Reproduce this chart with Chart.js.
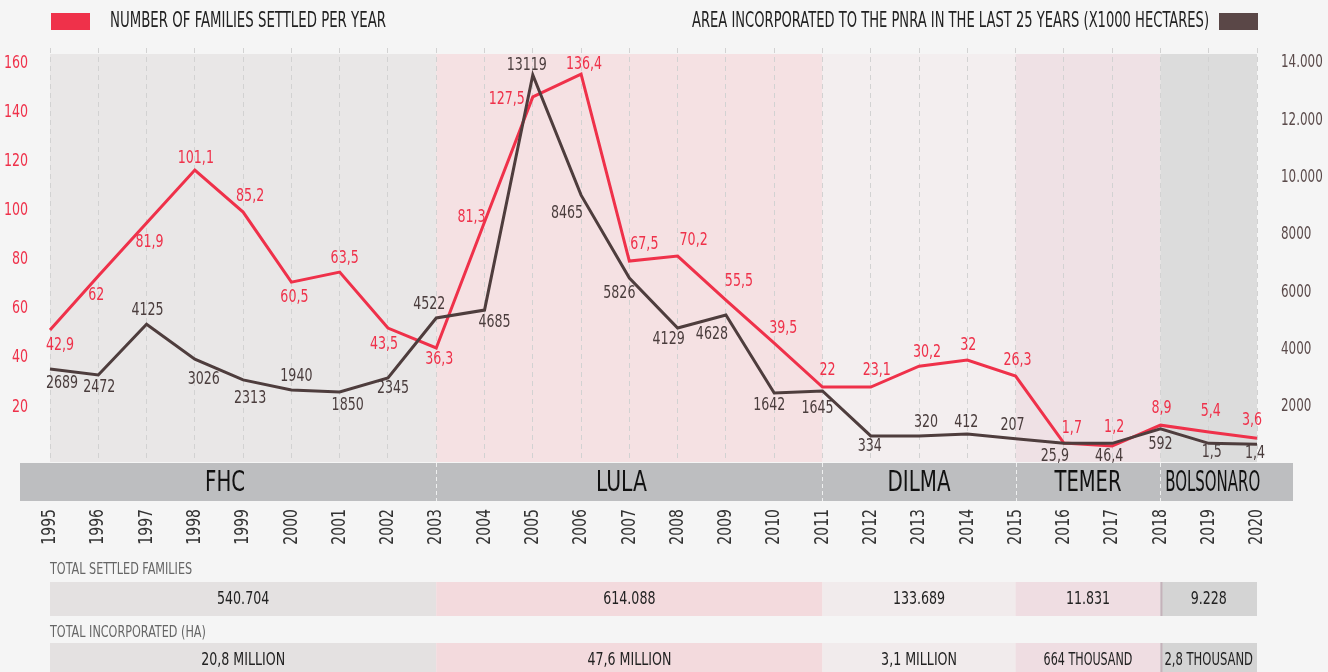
<!DOCTYPE html>
<html><head><meta charset="utf-8">
<script src="https://cdn.jsdelivr.net/npm/chart.js@4.4.1/dist/chart.umd.min.js"></script>
<style>html,body{margin:0;padding:0;background:#f5f5f5;overflow:hidden}#wrap{width:1328px;height:672px;position:relative}</style>
</head><body><div id="wrap"><canvas id="c" width="1328" height="672"></canvas></div>
<script>
// ---------- DATA ----------
const years = ["1995","1996","1997","1998","1999","2000","2001","2002","2003","2004","2005","2006","2007","2008","2009","2010","2011","2012","2013","2014","2015","2016","2017","2018","2019","2020"];
// families settled per year (x1000), as plotted
const families = [51.3,73.3,94.9,116.4,99.3,70.8,74.9,52.1,44.0,95.3,146.2,155.5,79.4,81.4,63.5,46.0,28.1,28.1,36.6,39.1,32.6,5.3,4.1,12.6,9.8,7.3];
// area incorporated (x1000 ha), as plotted
const area = [3325,3115,4885,3670,2945,2595,2525,3010,5105,5380,13580,9390,6495,4755,5208,2490,2560,990,990,1060,890,730,730,1240,730,700];
// printed value labels
const familiesLabels = ["42,9","62","81,9","101,1","85,2","60,5","63,5","43,5","36,3","81,3","127,5","136,4","67,5","70,2","55,5","39,5","22","23,1","30,2","32","26,3","1,7","1,2","8,9","5,4","3,6"];
const areaLabels = ["2689","2472","4125","3026","2313","1940","1850","2345","4522","4685","13119","8465","5826","4129","4628","1642","1645","334","320","412","207","25,9","46,4","592","1,5","1,4"];
const leftTicks = [20,40,60,80,100,120,140,160];
const rightTicks = [2000,4000,6000,8000,10000,12000,14000];
const rightTickLabels = ["2000","4000","6000","8000","10.000","12.000","14.000"];
const governments = ["FHC","LULA","DILMA","TEMER","BOLSONARO"];
const govStart = ["1995","2003","2011","2015","2018"];
const govEnd = ["2003","2011","2015","2018","2020"];
const totalFamilies = ["540.704","614.088","133.689","11.831","9.228"];
const totalArea = ["20,8 MILLION","47,6 MILLION","3,1 MILLION","664 THOUSAND","2,8 THOUSAND"];
const legendFamilies = "NUMBER OF FAMILIES SETTLED PER YEAR";
const legendArea = "AREA INCORPORATED TO THE PNRA IN THE LAST 25 YEARS (X1000 HECTARES)";
const tableTitle1 = "TOTAL SETTLED FAMILIES";
const tableTitle2 = "TOTAL INCORPORATED (HA)";

// ---------- STYLE / LAYOUT ----------
const FONT = '"DejaVu Sans Condensed","Liberation Sans Narrow","Noto Sans",sans-serif';
const CONDENSE = 0.78;
const RED = '#ef314a', DARK = '#4e3d3d';
const regionColors = ['#e9e7e7','#f5e1e3','#f3eeef','#efe1e5','#dcdcdc'];
const tableColors = ['#e4e1e1','#f3dadd','#f1ebec','#efdde2','#d4d4d4'];
// label offsets [dx,dy] in px relative to point
const famOff = [[10,15],[-2,19],[3,19],[1,-12],[7,-16],[3,15],[5,-14],[-4,16],[3,11],[-13,-5],[-26,2],[3,-10],[15,-17],[16,-16],[13,-19],[9,-15],[5,-17],[6,-17],[8,-14],[1,-15],[2,-16],[8,-15],[2,-19],[1,-17],[2,-21],[-5,-18]];
const areaOff = [[12,14],[1,12],[1,-14],[9,20],[7,18],[5,-14],[8,13],[5,10],[-7,-14],[10,12],[-6,-10],[-14,18],[-10,15],[-9,11],[-14,19],[-5,12],[-5,17],[-1,10],[7,-14],[-1,-12],[-3,-13],[-9,13],[-3,13],[0,16],[3,9],[-2,9]];

Chart.defaults.font.family = FONT;

const canvas = document.getElementById('c');
const c2d = canvas.getContext('2d');
const nativeFill = c2d.fillText;
// condensed rendering of all canvas text
c2d.fillText = function(t, x, y, mw){
  const w = this.measureText(t).width * CONDENSE;
  return nativeFill.call(this, t, x, y, (mw === undefined || mw === null) ? w : Math.min(mw, w));
};

function txt(ctx, s, x, y, font, color, align, maxW){
  ctx.save(); ctx.font = font; ctx.fillStyle = color; ctx.textAlign = align||'center'; ctx.textBaseline='middle';
  ctx.fillText(s, x, y, maxW);
  ctx.restore();
}

const decor = {
  id:'decor',
  beforeDraw(chart){
    const {ctx, chartArea:a, scales:{x}} = chart;
    ctx.save();
    ctx.fillStyle = '#f5f5f5'; ctx.fillRect(0,0,chart.width,chart.height);
    for (let i=0;i<governments.length;i++){
      const x0 = x.getPixelForValue(years.indexOf(govStart[i]));
      const x1 = x.getPixelForValue(years.indexOf(govEnd[i]));
      ctx.fillStyle = regionColors[i];
      ctx.fillRect(x0, 54, x1-x0, a.bottom-54);
    }
    ctx.restore();
  },
  afterDatasetsDraw(chart){
    const {ctx} = chart;
    const lf = '18px '+FONT;
    chart.data.datasets.forEach((ds, di) => {
      const meta = chart.getDatasetMeta(di);
      const isFam = ds.id==='fam';
      const labs = isFam ? familiesLabels : areaLabels;
      const off = isFam ? famOff : areaOff;
      const col = isFam ? RED : '#4a3d3d';
      meta.data.forEach((p, i) => {
        txt(ctx, labs[i], p.x+off[i][0], p.y+off[i][1], lf, col, 'center');
      });
    });
  },
  afterDraw(chart){
    const {ctx, chartArea:a, scales:{x}} = chart;
    const xs = (i)=>x.getPixelForValue(years.indexOf(govStart[i]));
    const xe = (i)=>x.getPixelForValue(years.indexOf(govEnd[i]));
    // band
    const bTop = a.bottom+1, bH = 38;
    ctx.save();
    ctx.fillStyle = '#bdbec0'; ctx.fillRect(20, bTop, 1273, bH);
    ctx.strokeStyle = 'rgba(255,255,255,0.75)'; ctx.lineWidth = 1; ctx.setLineDash([4,3]);
    for (let i=1;i<governments.length;i++){
      const px = Math.round(xs(i))+0.5;
      ctx.beginPath(); ctx.moveTo(px,bTop); ctx.lineTo(px,bTop+bH); ctx.stroke();
    }
    ctx.restore();
    const bandCenters = governments.map((g,i)=>{
      const l = i===0 ? 20 : xs(i); const r = xe(i);
      return (l+r)/2;
    });
    bandCenters[0] -= 3; bandCenters[1] -= 8; bandCenters[4] += 4;
    const bandW = [40,53,63,67,95];
    governments.forEach((g,i)=> txt(ctx, g, bandCenters[i], bTop+bH/2+1, '29px '+FONT, '#111', 'center', bandW[i]));
    // legend
    ctx.save(); ctx.fillStyle = RED; ctx.fillRect(51,13,39,17); ctx.fillStyle = '#5a4747'; ctx.fillRect(1219,13,39,17); ctx.restore();
    txt(ctx, legendFamilies, 110, 22, '21px '+FONT, '#222', 'left', 276);
    txt(ctx, legendArea, 1209, 22, '21px '+FONT, '#222', 'right', 517);
    // tables
    txt(ctx, tableTitle1, 50, 570, '16px '+FONT, '#666', 'left', 151);
    txt(ctx, tableTitle2, 50, 633, '16px '+FONT, '#666', 'left', 162);
    for (let i=0;i<governments.length;i++){
      const x0 = xs(i), x1 = xe(i);
      ctx.save();
      ctx.fillStyle = tableColors[i];
      ctx.fillRect(x0, 582, x1-x0, 34);
      ctx.fillRect(x0, 643, x1-x0, 34);
      if (i===4){ ctx.fillStyle='#c4b2ba'; ctx.fillRect(x0,582,2,34); ctx.fillRect(x0,643,2,34); }
      ctx.restore();
      txt(ctx, totalFamilies[i], (x0+x1)/2, 599, '18px '+FONT, '#222', 'center');
      txt(ctx, totalArea[i], (x0+x1)/2, 660, '18px '+FONT, '#222', 'center', Math.min(x1-x0-8, totalArea[i].length*7.4));
    }
  }
};

new Chart(canvas, {
  type:'line',
  data:{
    labels: years,
    datasets:[
      {id:'area', label:legendArea, data:area, yAxisID:'y2', borderColor:DARK, borderWidth:3, pointRadius:0, tension:0, fill:false},
      {id:'fam', label:legendFamilies, data:families, yAxisID:'y', borderColor:RED, borderWidth:3, pointRadius:0, tension:0, fill:false}
    ]
  },
  options:{
    responsive:false, devicePixelRatio:1, animation:false,
    layout:{padding:{top:48,left:0,right:0,bottom:0}},
    plugins:{legend:{display:false}, tooltip:{enabled:false}},
    scales:{
      x:{
        type:'category', offset:false,
        grid:{display:true, color:'#d2d2d2', drawTicks:false, lineWidth:1},
        border:{display:false, dash:[5,4]},
        ticks:{autoSkip:false, minRotation:90, maxRotation:90, padding:47, color:'#333', font:{size:20, family:FONT}},
        afterFit(s){ s.height = 210; }
      },
      y:{
        position:'left', min:-2.4, max:166.1,
        grid:{display:false, drawTicks:false}, border:{display:false},
        ticks:{padding:22, color:RED, font:{size:18, family:FONT}},
        afterBuildTicks(s){ s.ticks = leftTicks.map(v=>({value:v})); },
        afterFit(s){ s.width = 50; }
      },
      y2:{
        position:'right', min:80, max:14523,
        grid:{display:false, drawTicks:false}, border:{display:false},
        ticks:{padding:24, color:'#5a4a4a', font:{size:17, family:FONT},
          callback:(v)=>{ const k = rightTicks.indexOf(v); return k>=0 ? rightTickLabels[k] : ''; }},
        afterBuildTicks(s){ s.ticks = rightTicks.map(v=>({value:v})); },
        afterFit(s){ s.width = 66; }
      }
    }
  },
  plugins:[decor]
});
</script>
</body></html>
